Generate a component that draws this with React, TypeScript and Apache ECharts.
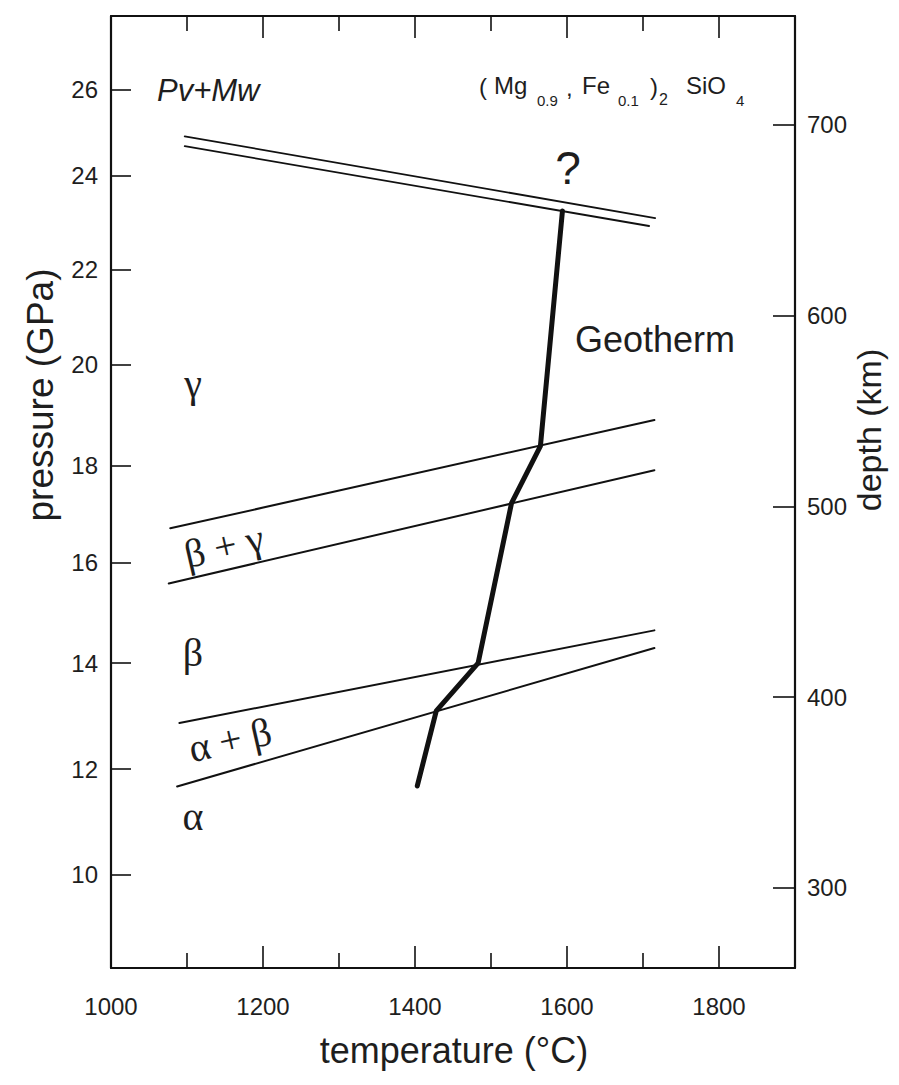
import React, { useEffect, useRef } from "react";
import * as echarts from "echarts";

// Pressure axis ticks (GPa) and the depth (km) at which each one sits on the linear depth scale
const pressureTicks = [10, 12, 14, 16, 18, 20, 22, 24, 26];
const pressureTickDepthKm = [306.8, 362.3, 417.8, 470.7, 521.5, 574.3, 624.1, 673.3, 718.3];
const depthTicks = [300, 400, 500, 600, 700];
const temperatureLabels = [1000, 1200, 1400, 1600, 1800];
const temperatureMinorTicks = [1100, 1300, 1500, 1700];

// Phase boundaries: [temperature °C, pressure GPa]
const pvMwUpper = [[1097, 24.92], [1716, 23.1]];
const pvMwLower = [[1097, 24.69], [1708, 22.93]];
const betaGammaUpper = [[1078, 16.7], [1715, 18.9]];
const betaGammaLower = [[1076, 15.58], [1715, 17.9]];
const alphaBetaUpper = [[1090, 12.87], [1715, 14.65]];
const alphaBetaLower = [[1087, 11.67], [1715, 14.3]];
const geotherm = [
  [1403, 11.68],
  [1428, 13.1],
  [1483, 14.0],
  [1527, 17.22],
  [1565, 18.38],
  [1594, 23.25],
];

function pToDepth(p: number): number {
  const n = pressureTicks.length;
  let i = 0;
  if (p <= pressureTicks[0]) i = 0;
  else if (p >= pressureTicks[n - 1]) i = n - 2;
  else {
    while (i < n - 2 && p > pressureTicks[i + 1]) i++;
  }
  const p0 = pressureTicks[i], p1 = pressureTicks[i + 1];
  const d0 = pressureTickDepthKm[i], d1 = pressureTickDepthKm[i + 1];
  return d0 + ((p - p0) / (p1 - p0)) * (d1 - d0);
}

const toXY = (pts: number[][]) => pts.map(([t, p]) => [t, pToDepth(p)]);

const INK = "#111";
const TXT = "#1e1e1e";
const SANS = '"Liberation Sans", Arial, sans-serif';
const SERIF = '"Liberation Serif", "Times New Roman", serif';

export default function App() {
  const ref = useRef<HTMLDivElement>(null);
  useEffect(() => {
    if (!ref.current) return;
    const chart = echarts.init(ref.current, null, { renderer: "svg" });
    const depthMin = 258;
    const depthMax = 757.07;
    const tMin = 1000;
    const tMax = 1900;
    const lineSeries = (name: string, pts: number[][], width: number) => ({
      name,
      type: "line",
      data: toXY(pts),
      symbol: "none",
      xAxisIndex: 0,
      yAxisIndex: 0,
      silent: true,
      lineStyle: { color: INK, width, cap: "round", join: "round" },
    });
    const axisLine = { show: true, onZero: false, lineStyle: { color: INK, width: 2.2 } };
    const tickStyle = { color: INK, width: 1.6 };
    const labelStyle = { color: TXT, fontSize: 24, fontFamily: SANS };
    const plain = (v: number) => String(v);
    chart.setOption({
      animation: false,
      backgroundColor: "#ffffff",
      grid: { left: 111, right: 104, top: 16, bottom: 117, containLabel: false },
      xAxis: [
        {
          type: "value", position: "bottom", min: tMin, max: tMax,
          axisLine,
          axisTick: { show: true, inside: true, length: 22, customValues: temperatureLabels, lineStyle: tickStyle },
          axisLabel: { show: true, customValues: temperatureLabels, margin: 26, formatter: plain, ...labelStyle },
          splitLine: { show: false },
        },
        {
          type: "value", position: "bottom", min: tMin, max: tMax,
          axisLine: { show: false },
          axisTick: { show: true, inside: true, length: 15, customValues: temperatureMinorTicks, lineStyle: tickStyle },
          axisLabel: { show: false },
          splitLine: { show: false },
        },
        {
          type: "value", position: "top", min: tMin, max: tMax,
          axisLine,
          axisTick: { show: true, inside: true, length: 22, customValues: temperatureLabels, lineStyle: tickStyle },
          axisLabel: { show: false },
          splitLine: { show: false },
        },
        {
          type: "value", position: "top", min: tMin, max: tMax,
          axisLine: { show: false },
          axisTick: { show: true, inside: true, length: 15, customValues: temperatureMinorTicks, lineStyle: tickStyle },
          axisLabel: { show: false },
          splitLine: { show: false },
        },
      ],
      yAxis: [
        {
          type: "value", position: "left", min: depthMin, max: depthMax,
          axisLine,
          axisTick: { show: true, inside: true, length: 20, customValues: pressureTickDepthKm, lineStyle: tickStyle },
          axisLabel: {
            show: true,
            customValues: pressureTickDepthKm,
            margin: 13,
            ...labelStyle,
            formatter: (v: number) => {
              const i = pressureTickDepthKm.findIndex((d) => Math.abs(d - v) < 0.01);
              return i >= 0 ? String(pressureTicks[i]) : "";
            },
          },
          splitLine: { show: false },
        },
        {
          type: "value", position: "right", min: depthMin, max: depthMax,
          axisLine,
          axisTick: { show: true, inside: true, length: 22, customValues: depthTicks, lineStyle: tickStyle },
          axisLabel: { show: true, customValues: depthTicks, margin: 12, formatter: plain, ...labelStyle },
          splitLine: { show: false },
        },
      ],
      series: [
        lineSeries("Pv+Mw upper", pvMwUpper, 1.8),
        lineSeries("Pv+Mw lower", pvMwLower, 1.8),
        lineSeries("beta-gamma upper", betaGammaUpper, 2),
        lineSeries("beta-gamma lower", betaGammaLower, 2),
        lineSeries("alpha-beta upper", alphaBetaUpper, 2),
        lineSeries("alpha-beta lower", alphaBetaLower, 2),
        lineSeries("Geotherm", geotherm, 5),
      ],
      graphic: [
        // axis titles
        { type: "text", x: 40, y: 395, rotation: Math.PI / 2, silent: true,
          style: { text: "pressure (GPa)", fill: TXT, fontSize: 37, fontFamily: SANS, align: "center", verticalAlign: "middle" } },
        { type: "text", x: 869, y: 430, rotation: Math.PI / 2, silent: true,
          style: { text: "depth (km)", fill: TXT, fontSize: 34, fontFamily: SANS, align: "center", verticalAlign: "middle" } },
        { type: "text", x: 454, y: 1050, silent: true,
          style: { text: "temperature (°C)", fill: TXT, fontSize: 36, fontFamily: SANS, align: "center", verticalAlign: "middle" } },
        // phase field labels
        { type: "text", x: 157, y: 90, silent: true,
          style: { text: "Pv+Mw", fill: TXT, fontSize: 31, fontStyle: "italic", fontFamily: SANS, align: "left", verticalAlign: "middle" } },
        { type: "text", x: 568, y: 168, silent: true,
          style: { text: "?", fill: TXT, fontSize: 46, fontFamily: SANS, align: "center", verticalAlign: "middle" } },
        { type: "text", x: 575, y: 339, silent: true,
          style: { text: "Geotherm", fill: TXT, fontSize: 36, fontFamily: SANS, align: "left", verticalAlign: "middle" } },
        { type: "text", x: 193, y: 383, silent: true,
          style: { text: "γ", fill: TXT, fontSize: 40, fontFamily: SERIF, align: "center", verticalAlign: "middle" } },
        { type: "text", x: 224, y: 546, rotation: (13 * Math.PI) / 180, silent: true,
          style: { text: "β + γ", fill: TXT, fontSize: 40, fontFamily: SERIF, align: "center", verticalAlign: "middle" } },
        { type: "text", x: 193, y: 652, silent: true,
          style: { text: "β", fill: TXT, fontSize: 40, fontFamily: SERIF, align: "center", verticalAlign: "middle" } },
        { type: "text", x: 230, y: 740, rotation: (13 * Math.PI) / 180, silent: true,
          style: { text: "α + β", fill: TXT, fontSize: 40, fontFamily: SERIF, align: "center", verticalAlign: "middle" } },
        { type: "text", x: 193, y: 816, silent: true,
          style: { text: "α", fill: TXT, fontSize: 40, fontFamily: SERIF, align: "center", verticalAlign: "middle" } },
        // formula (Mg0.9, Fe0.1)2 SiO4
        { type: "text", x: 479, y: 86, silent: true,
          style: { text: "(", fill: TXT, fontSize: 24, fontFamily: SANS, align: "left", verticalAlign: "middle" } },
        { type: "text", x: 494, y: 85, silent: true,
          style: { text: "Mg", fill: TXT, fontSize: 24, fontFamily: SANS, align: "left", verticalAlign: "middle" } },
        { type: "text", x: 537, y: 100, silent: true,
          style: { text: "0.9", fill: TXT, fontSize: 15, fontFamily: SANS, align: "left", verticalAlign: "middle" } },
        { type: "text", x: 566, y: 87, silent: true,
          style: { text: ",", fill: TXT, fontSize: 24, fontFamily: SANS, align: "left", verticalAlign: "middle" } },
        { type: "text", x: 582, y: 85, silent: true,
          style: { text: "Fe", fill: TXT, fontSize: 24, fontFamily: SANS, align: "left", verticalAlign: "middle" } },
        { type: "text", x: 618, y: 100, silent: true,
          style: { text: "0.1", fill: TXT, fontSize: 15, fontFamily: SANS, align: "left", verticalAlign: "middle" } },
        { type: "text", x: 650, y: 86, silent: true,
          style: { text: ")", fill: TXT, fontSize: 24, fontFamily: SANS, align: "left", verticalAlign: "middle" } },
        { type: "text", x: 659, y: 99, silent: true,
          style: { text: "2", fill: TXT, fontSize: 16, fontFamily: SANS, align: "left", verticalAlign: "middle" } },
        { type: "text", x: 686, y: 85, silent: true,
          style: { text: "SiO", fill: TXT, fontSize: 24, fontFamily: SANS, align: "left", verticalAlign: "middle" } },
        { type: "text", x: 736, y: 100, silent: true,
          style: { text: "4", fill: TXT, fontSize: 15, fontFamily: SANS, align: "left", verticalAlign: "middle" } },
      ],
    });
    return () => chart.dispose();
  }, []);
  return (
    <div
      ref={ref}
      style={{ position: "fixed", left: 0, top: 0, width: 899, height: 1085, background: "#fff" }}
    />
  );
}
